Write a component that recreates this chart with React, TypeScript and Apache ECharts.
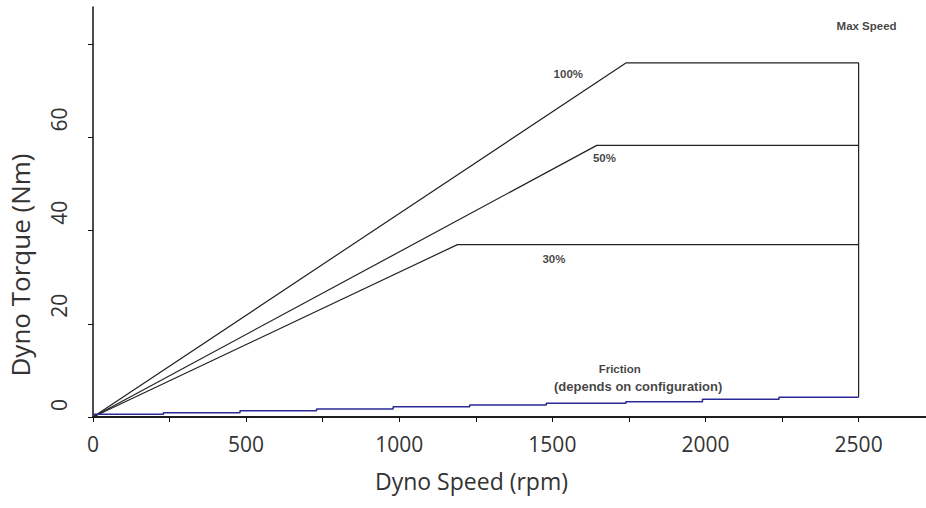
import React, { useEffect, useRef } from "react";
import * as echarts from "echarts";

// ---- data ----
const speedMax = 2720;
const torqueMax = 88;

const line100: [number, number][] = [[0, 0], [1740, 76], [2500, 76], [2500, 4.25]];
const line50: [number, number][] = [[0, 0], [1645, 58.3], [2500, 58.3]];
const line30: [number, number][] = [[0, 0], [1190, 37], [2500, 37]];

const frictionSpeed = [0, 230, 480, 730, 980, 1230, 1480, 1740, 1990, 2240, 2500];
const frictionTorque = [0.6, 0.9, 1.35, 1.7, 2.2, 2.6, 2.95, 3.3, 3.8, 4.25, 4.25];

const annotations: [number, number, string][] = [
  [1552, 73.6, "100%"],
  [1670, 55.6, "50%"],
  [1505, 34.0, "30%"],
  [2526, 84.0, "Max Speed"],
  [1720, 10.4, "Friction"],
  [1780, 6.6, "(depends on configuration)"],
];

const xTitle = "Dyno Speed (rpm)";
const yTitle = "Dyno Torque (Nm)";

export default function App() {
  const ref = useRef<HTMLDivElement>(null);
  useEffect(() => {
    if (!ref.current) return;
    const chart = echarts.init(ref.current, undefined, { renderer: "svg" });
    const axisFont = "Open Sans";
    const lineStyle = { color: "#222", width: 1.2 };
    chart.setOption({
      animation: false,
      backgroundColor: "#fff",
      grid: { left: 93, top: 7, right: 0, bottom: 91, containLabel: false, outerBoundsMode: "none" },
      xAxis: [
        {
          type: "value",
          min: 0,
          max: speedMax,
          interval: 250,
          splitLine: { show: false },
          axisLine: { show: true, onZero: false, lineStyle: { color: "#111", width: 1.5 } },
          axisTick: { show: true, length: 5, lineStyle: { color: "#111" } },
          axisLabel: {
            margin: 16,
            fontFamily: axisFont,
            fontSize: 21,
            color: "#333",
            showMaxLabel: false,
            formatter: (v: number) => (v % 500 === 0 ? String(v) : ""),
          },
          name: xTitle,
          nameLocation: "middle",
          nameGap: 52,
          nameTextStyle: { fontFamily: axisFont, fontSize: 23, color: "#333", padding: [0, 76, 0, 0] },
        },
        {
          type: "value",
          position: "top",
          min: 0,
          max: speedMax,
          splitLine: { show: false },
          axisLine: { show: true, lineStyle: { color: "#111", width: 1.5 } },
          axisTick: { show: false },
          axisLabel: { show: false },
        },
      ],
      yAxis: {
        type: "value",
        min: 0,
        max: torqueMax,
        interval: 20,
        splitLine: { show: false },
        axisLine: { show: true, lineStyle: { color: "#111", width: 1.5 } },
        axisTick: { show: true, length: 5, lineStyle: { color: "#111" } },
        axisLabel: {
          rotate: 90,
          margin: 34,
          align: "left",
          verticalAlign: "middle",
          padding: [0, 0, 0, 6],
          fontFamily: axisFont,
          fontSize: 21,
          color: "#333",
          showMaxLabel: false,
          formatter: (v: number) => (v === 80 ? "" : String(v)),
        },
        name: yTitle,
        nameLocation: "middle",
        nameRotate: 90,
        nameGap: 60,
        nameTextStyle: { fontFamily: axisFont, fontSize: 26, color: "#333", padding: [0, 106, 0, 0] },
      },
      series: [
        { type: "line", data: line100, symbol: "none", lineStyle, silent: true },
        { type: "line", data: line50, symbol: "none", lineStyle, silent: true },
        { type: "line", data: line30, symbol: "none", lineStyle, silent: true },
        {
          type: "line",
          step: "end",
          data: frictionSpeed.map((s, i) => [s, frictionTorque[i]]),
          symbol: "none",
          lineStyle: { color: "#2b2b96", width: 1.5 },
          silent: true,
        },
        {
          type: "scatter",
          data: annotations.map((a) => ({
            value: a,
            label: a[2].length > 12 ? { fontSize: 13 } : undefined,
          })),
          symbolSize: 0,
          silent: true,
          label: {
            show: true,
            position: "inside",
            formatter: (p: any) => p.value[2],
            fontFamily: "Liberation Sans",
            fontSize: 11.5,
            fontWeight: "bold",
            color: "#111",
          },
        },
      ],
    });
    return () => chart.dispose();
  }, []);
  return <div ref={ref} style={{ position: "fixed", left: 0, top: 0, width: 926, height: 508 }} />;
}
